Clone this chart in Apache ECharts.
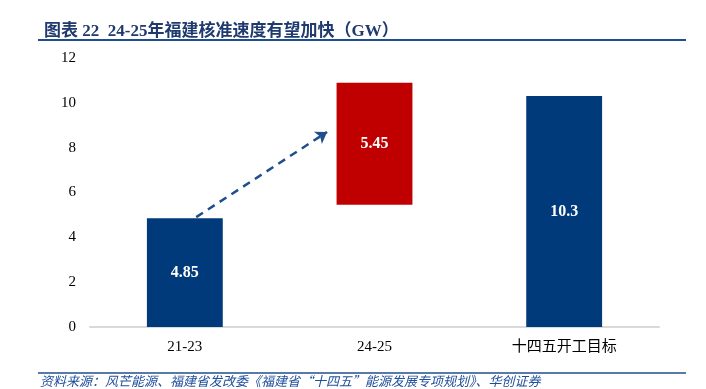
<!DOCTYPE html>
<html><head><meta charset="utf-8">
<script src="https://cdn.jsdelivr.net/npm/echarts@6/dist/echarts.min.js"></script>
<style>html,body{margin:0;padding:0;background:#fff}#c{width:706px;height:389px}</style>
</head><body><div id="c"></div>
<script>
const titleText = '图表 22  24-25年福建核准速度有望加快（GW）';
const sourceText = '资料来源：风芒能源、福建省发改委《福建省“十四五”能源发展专项规划》、华创证券';
const categories = ['21-23', '24-25', '十四五开工目标'];
const baseValues = [0, 5.45, 0];
const barValues = [4.85, 5.45, 10.3];
const barColors = ['#003A7A', '#C00000', '#003A7A'];
const yTicks = [0, 2, 4, 6, 8, 10, 12];
const arrowFrom = [0.06, 4.9];
const arrowTo = [0.75, 8.7];

const serif = '"Liberation Serif", "Noto Sans CJK SC", serif';
const chart = echarts.init(document.getElementById('c'));
chart.setOption({
  animation: false,
  backgroundColor: '#fff',
  title: {
    text: titleText, left: 39, top: 18,
    textStyle: {fontFamily: serif, fontSize: 17, fontWeight: 'bold', color: '#1F3A6E'}
  },
  graphic: [
    {type: 'line', shape: {x1: 38, y1: 40, x2: 686, y2: 40}, style: {stroke: '#1F4E8C', lineWidth: 2}},
    {type: 'line', shape: {x1: 38, y1: 373, x2: 686, y2: 373}, style: {stroke: '#1F4E8C', lineWidth: 1.5}},
    {type: 'text', left: 40, top: 375, style: {text: sourceText, fontFamily: '"Noto Sans CJK SC", sans-serif', fontStyle: 'italic', fontSize: 13, fill: '#1F4E9C'}}
  ],
  grid: {left: 90, right: 47, top: 58, bottom: 62},
  xAxis: [
    {type: 'category', data: categories,
     axisLine: {lineStyle: {color: '#D9D9D9', width: 2}}, axisTick: {show: false},
     axisLabel: {fontFamily: serif, fontSize: 15, color: '#000', margin: 13}},
    {type: 'value', min: -0.5, max: 2.5, show: false}
  ],
  yAxis: {
    type: 'value', min: yTicks[0], max: yTicks[yTicks.length - 1], interval: 2,
    splitLine: {show: false}, axisLine: {show: false}, axisTick: {show: false},
    axisLabel: {fontFamily: serif, fontSize: 15, color: '#000', margin: 14}
  },
  series: [
    {type: 'bar', stack: 's', data: baseValues, barWidth: '40%',
     itemStyle: {color: 'transparent'}, silent: true},
    {type: 'bar', stack: 's', barWidth: '40%',
     data: barValues.map((v, i) => ({value: v, itemStyle: {color: barColors[i]}})),
     label: {show: true, position: 'inside', color: '#fff', fontFamily: serif, fontSize: 16, fontWeight: 'bold'}},
    {type: 'lines', coordinateSystem: 'cartesian2d', xAxisIndex: 1, yAxisIndex: 0,
     symbol: ['none', 'arrow'], symbolSize: 11,
     lineStyle: {color: '#1F4E8C', width: 2.5, type: [8, 6], opacity: 1},
     data: [{coords: [arrowFrom, arrowTo]}]}
  ]
});
</script></body></html>
